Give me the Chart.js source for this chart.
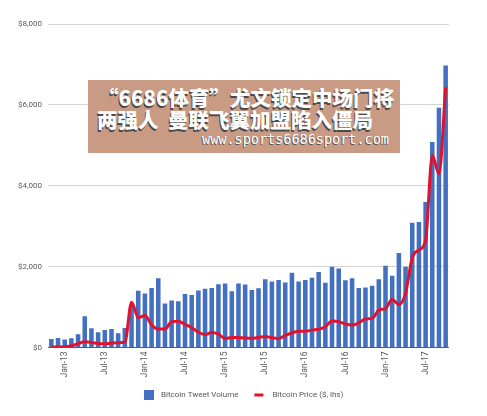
<!DOCTYPE html>
<html>
<head>
<meta charset="utf-8">
<script src="https://cdn.jsdelivr.net/npm/chart.js@4"></script>
<style>
  html, body { margin: 0; padding: 0; background: #fff; }
  #wrap { position: relative; width: 487px; height: 416px; }
  #c { position: absolute; left: 0; top: 0; }
  #wm { position: absolute; left: 88px; top: 80px; width: 312px; height: 73px; background: #c99b84; }
  #wm .l { position: absolute; color: #fff; font-family: "Noto Sans CJK SC", sans-serif; font-weight: 900; font-size: 20.5px; line-height: 21px; white-space: pre; text-shadow: -1px 2px 0 #4a4a4a; }
  #wm .u { position: absolute; color: #fff; font-family: "DejaVu Sans Mono", monospace; font-size: 13.5px; line-height: 13px; white-space: pre; text-shadow: -1px 1px 0 #555; }
</style>
</head>
<body>
<div id="wrap">
  <canvas id="c" width="487" height="416"></canvas>
  <div id="wm">
    <div class="l" style="left:10px; top:7px;">“6686体育”尤文锁定中场门将</div>
    <div class="l" style="left:9px; top:29px;">两强人  曼联飞翼加盟陷入僵局</div>
    <div class="u" style="left:114px; top:53px;">www.sports6686sport.com</div>
  </div>
</div>
<script>
const months = [
  'Nov-12','Dec-12',
  'Jan-13','Feb-13','Mar-13','Apr-13','May-13','Jun-13','Jul-13','Aug-13','Sep-13','Oct-13','Nov-13','Dec-13',
  'Jan-14','Feb-14','Mar-14','Apr-14','May-14','Jun-14','Jul-14','Aug-14','Sep-14','Oct-14','Nov-14','Dec-14',
  'Jan-15','Feb-15','Mar-15','Apr-15','May-15','Jun-15','Jul-15','Aug-15','Sep-15','Oct-15','Nov-15','Dec-15',
  'Jan-16','Feb-16','Mar-16','Apr-16','May-16','Jun-16','Jul-16','Aug-16','Sep-16','Oct-16','Nov-16','Dec-16',
  'Jan-17','Feb-17','Mar-17','Apr-17','May-17','Jun-17','Jul-17','Aug-17','Sep-17','Oct-17'
];
const shownTicks = ['Jan-13','Jul-13','Jan-14','Jul-14','Jan-15','Jul-15','Jan-16','Jul-16','Jan-17','Jul-17'];
const tweetVolume = [
  210, 235,
  195, 230, 325, 770, 475, 375, 435, 455, 350, 480, 1050, 1405,
  1335, 1470, 1715, 1090, 1165, 1145, 1320, 1300, 1410, 1450, 1470, 1565,
  1580, 1390, 1585, 1560, 1425, 1465, 1690, 1630, 1670, 1605, 1850, 1630,
  1670, 1725, 1870, 1600, 1995, 1955, 1665, 1710, 1470, 1485, 1525, 1690,
  2020, 1775, 2340, 2000, 3085, 3105, 3600, 5080, 5930, 6975
];
const bitcoinPrice = [
  15, 15,
  18, 35, 95, 140, 125, 100, 90, 110, 120, 130, 1120, 740,
  790, 560, 455, 455, 640, 650, 570, 490, 380, 320, 370, 330,
  220, 250, 245, 235, 230, 250, 275, 240, 225, 300, 360, 400,
  400, 430, 450, 515, 655, 640, 580, 555, 610, 705, 720, 925,
  965, 1190, 1065, 1340, 2220, 2410, 2650, 4750, 4300, 6440
];
const yTicks = [0, 2000, 4000, 6000, 8000];

const FONT = 'Roboto, "Liberation Sans", Arial, sans-serif';
const TXT = '#5a5a5a';

const legendPlugin = {
  id: 'customLegend',
  afterDraw(chart) {
    const ctx = chart.ctx;
    const ds = chart.data.datasets;
    ctx.save();
    ctx.font = '8px ' + FONT;
    ctx.textBaseline = 'middle';
    ctx.fillStyle = TXT;
    const w1 = ctx.measureText(ds[0].label).width;
    const w2 = ctx.measureText(ds[1].label).width;
    const total = 10 + 7 + w1 + 16 + 9 + 9 + w2;
    let x = Math.round(243.5 - total / 2);
    const y = 395;
    ctx.fillStyle = ds[0].backgroundColor;
    ctx.fillRect(x, y - 5, 10, 10);
    x += 17;
    ctx.fillStyle = TXT;
    ctx.textAlign = 'left';
    ctx.fillText(ds[0].label, x, y);
    x += w1 + 16;
    ctx.strokeStyle = ds[1].borderColor;
    ctx.lineWidth = 3;
    ctx.beginPath();
    ctx.moveTo(x, y);
    ctx.lineTo(x + 9, y);
    ctx.stroke();
    x += 18;
    ctx.fillText(ds[1].label, x, y);
    ctx.restore();
  }
};

new Chart(document.getElementById('c'), {
  data: {
    labels: months,
    datasets: [
      {
        type: 'bar',
        label: 'Bitcoin Tweet Volume',
        data: tweetVolume,
        backgroundColor: '#4470c2',
        barPercentage: 0.68,
        categoryPercentage: 1.0,
        order: 2
      },
      {
        type: 'line',
        label: 'Bitcoin Price ($, lhs)',
        data: bitcoinPrice,
        borderColor: '#e3122c',
        backgroundColor: '#e3122c',
        borderWidth: 3,
        pointRadius: 0,
        cubicInterpolationMode: 'monotone',
        fill: false,
        order: 1
      }
    ]
  },
  options: {
    responsive: false,
    animation: false,
    devicePixelRatio: 1,
    layout: { padding: { left: 0, right: 38, top: 24, bottom: 35.5 } },
    plugins: { legend: { display: false }, tooltip: { enabled: false } },
    scales: {
      x: {
        type: 'category',
        grid: { display: false, drawTicks: false },
        border: { display: false },
        ticks: {
          autoSkip: false,
          maxRotation: 90,
          minRotation: 90,
          padding: 4,
          color: TXT,
          font: { family: FONT, size: 8.5 },
          callback: function (v, i) {
            const l = months[i];
            return shownTicks.includes(l) ? l : '';
          }
        },
        afterFit(s) { s.height = 33; }
      },
      y: {
        min: 0,
        max: 8000,
        afterBuildTicks(s) { s.ticks = yTicks.map(v => ({ value: v })); },
        grid: {
          drawTicks: false,
          color: ctx => (ctx.tick && ctx.tick.value === 0) ? '#5c5c5c' : '#d4d4d4',
          lineWidth: 1
        },
        border: { display: false },
        ticks: {
          padding: 6,
          color: TXT,
          font: { family: FONT, size: 8 },
          callback: v => '$' + Number(v).toLocaleString('en-US')
        },
        afterFit(s) { s.width = 48; }
      }
    }
  },
  plugins: [legendPlugin]
});
</script>
</body>
</html>
